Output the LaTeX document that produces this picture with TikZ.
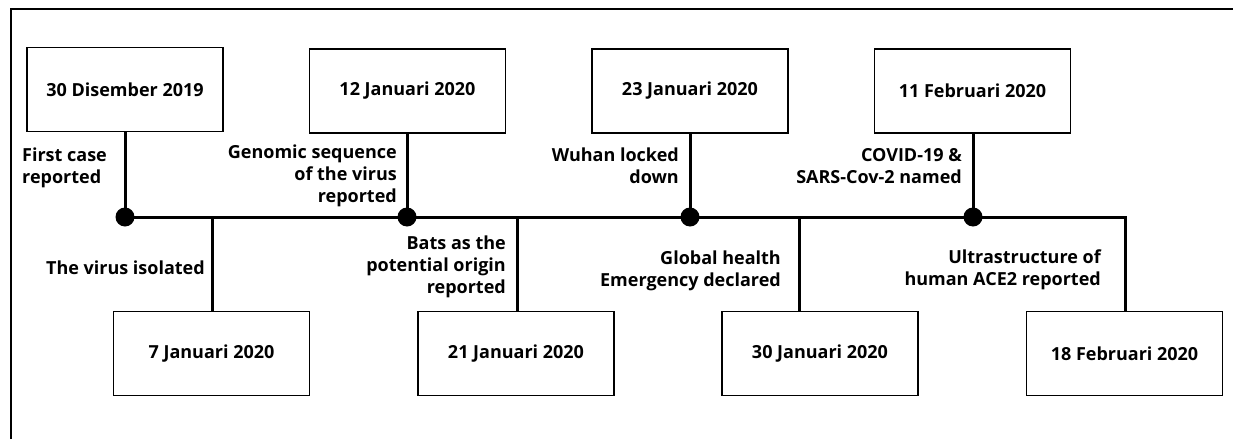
\documentclass[tikz,border=0pt]{standalone}
\usepackage{fontspec}
\setmainfont{Open Sans}
\begin{document}
\begin{tikzpicture}[x=1pt,y=-1pt,
  txt/.style={font=\bfseries\fontsize{18}{21.8}\selectfont},
  datebox/.style={txt,draw,line width=1.5pt,minimum width=196pt,minimum height=84pt,inner sep=0pt},
  lbl/.style={txt,inner sep=0pt},
  conn/.style={line width=3pt},
  dot/.style={circle,fill=black,inner sep=0pt,minimum size=19pt}]
\useasboundingbox (0,0) rectangle (1233,439);
\draw[line width=2.2pt] (11,439) -- (11,9) -- (1233,9);
% top boxes
\node[datebox] (t1) at (125,89.5) {30 Disember 2019};
\node[datebox] (t2) at (407.5,91) {12 Januari 2020};
\node[datebox] (t3) at (690,91) {23 Januari 2020};
\node[datebox] (t4) at (972.5,91) {11 Februari 2020};
% bottom boxes
\node[datebox] (b1) at (211.5,353.5) {7 Januari 2020};
\node[datebox] (b2) at (516,353.5) {21 Januari 2020};
\node[datebox] (b3) at (820,353.5) {30 Januari 2020};
\node[datebox] (b4) at (1124.5,353.5) {18 Februari 2020};
% junctions on the time line
\coordinate (d1) at (125,217);
\coordinate (d2) at (407,217);
\coordinate (d3) at (690,217);
\coordinate (d4) at (973,217);
\coordinate (j1) at (212,217);
\coordinate (j2) at (517,217);
\coordinate (j3) at (799,217);
\coordinate (j4) at (1125,217);
% connectors
\draw[conn] (d1) -- (j4) -- (j4 |- b4.north);
\draw[conn] (t1.south) -- (d1);
\draw[conn] (t2.south -| d2) -- (d2);
\draw[conn] (t3.south) -- (d3);
\draw[conn] (t4.south -| d4) -- (d4);
\draw[conn] (j1) -- (j1 |- b1.north);
\draw[conn] (j2) -- (j2 |- b2.north);
\draw[conn] (j3) -- (j3 |- b3.north);
\node[dot] (p1) at (d1) {};
\node[dot] (p2) at (d2) {};
\node[dot] (p3) at (d3) {};
\node[dot] (p4) at (d4) {};
% labels (base anchor = baseline of the last line)
\node[lbl,anchor=base west,align=left] (l1) at (22,183) {First case\\reported};
\node[lbl,anchor=base east,align=right] (l2) at (397,202) {Genomic sequence\\of the virus\\reported};
\node[lbl,anchor=base east] (l3) at (205,274) {The virus isolated};
\node[lbl,anchor=base east,align=right] (l4) at (506,293) {Bats as the\\potential origin\\reported};
\node[lbl,anchor=base east,align=right] (l5) at (679,183) {Wuhan locked\\down};
\node[lbl,anchor=base east,align=right] (l6) at (781,286) {Global health\\Emergency declared};
\node[lbl,anchor=base east,align=right] (l7) at (962,183) {COVID-19 \&\\SARS-Cov-2 named};
\node[lbl,anchor=base east,align=right] (l8) at (1101,285) {Ultrastructure of\\human ACE2 reported};
\end{tikzpicture}
\end{document}
